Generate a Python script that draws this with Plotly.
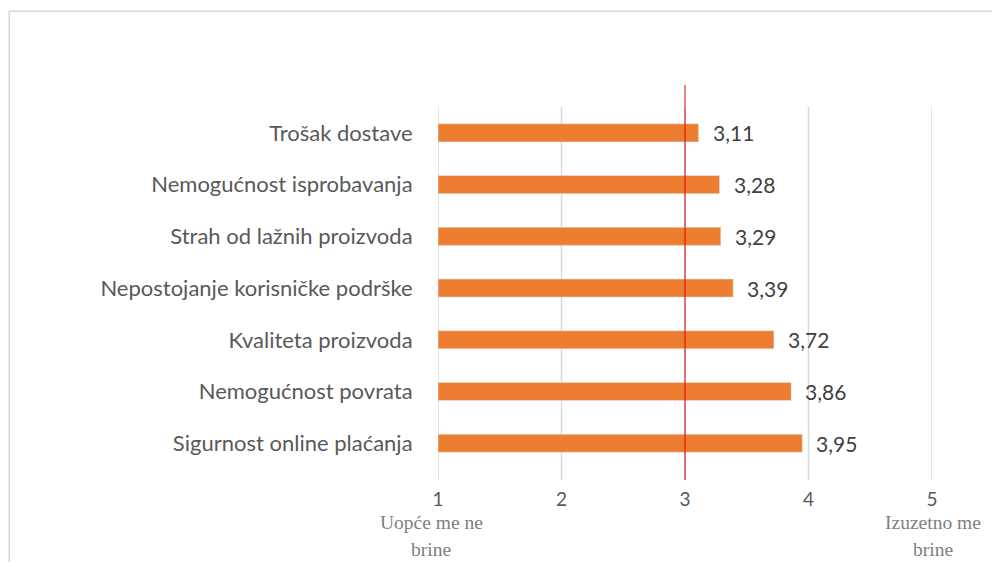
import plotly.graph_objects as go

categories = [
    "Trošak dostave",
    "Nemogućnost isprobavanja",
    "Strah od lažnih proizvoda",
    "Nepostojanje korisničke podrške",
    "Kvaliteta proizvoda",
    "Nemogućnost povrata",
    "Sigurnost online plaćanja",
]
values = [3.11, 3.28, 3.29, 3.39, 3.72, 3.86, 3.95]
x_ticks = [1, 2, 3, 4, 5]
scale_labels = {1: ["Uopće me ne", "brine"], 5: ["Izuzetno me", "brine"]}
reference_value = 3

fig = go.Figure()

fig.add_trace(
    go.Bar(
        x=[v - 1 for v in values],
        base=1,
        y=categories,
        orientation="h",
        marker=dict(color="#ed7d31"),
        width=0.35,
        hoverinfo="skip",
    )
)

# value labels next to bar ends
for cat, v in zip(categories, values):
    fig.add_annotation(
        x=v, y=cat, xref="x", yref="y",
        text=f"{v:.2f}".replace(".", ","),
        showarrow=False, xanchor="left", xshift=12,
        font=dict(family="Lato", size=21, color="#404040"),
    )

# vertical gridlines
for t in x_ticks:
    fig.add_shape(
        type="line", xref="x", yref="paper",
        x0=t, x1=t, y0=0, y1=1,
        line=dict(color="#d9d9d9", width=1.5), layer="below",
    )

# red reference line at 3
fig.add_shape(
    type="line", xref="x", yref="paper",
    x0=reference_value, x1=reference_value, y0=0, y1=1.059,
    line=dict(color="#e00000", width=1), layer="above",
)

# chart frame
frame = dict(color="#d9d9d9", width=1.5)
fig.add_shape(type="line", xref="paper", yref="paper",
              x0=-0.868, x1=1.2, y0=1.257, y1=1.257, line=frame)
fig.add_shape(type="line", xref="paper", yref="paper",
              x0=-0.868, x1=-0.868, y0=1.257, y1=-0.3, line=frame)

for xv, lines in scale_labels.items():
    for i, txt in enumerate(lines):
        fig.add_annotation(
            x=xv, y=-0.115 - i * 0.07, xref="x", yref="paper",
            text=txt, showarrow=False,
            xshift=-7 if xv == 1 else 1,
            font=dict(family="Liberation Serif", size=19.5, color="#7f7f7f"),
            yanchor="middle",
        )

fig.update_layout(
    width=1000,
    height=562,
    paper_bgcolor="white",
    plot_bgcolor="white",
    showlegend=False,
    margin=dict(l=430, r=76, t=99, b=90),
    font=dict(family="Lato", color="#404040"),
    xaxis=dict(
        range=[1, 5],
        tickvals=x_ticks,
        showgrid=False,
        zeroline=False,
        showline=False,
        tickfont=dict(size=19, color="#595959"),
        ticks="",
        ticklabelstandoff=6,
    ),
    yaxis=dict(
        range=[6.71, -0.5],
        showgrid=False,
        zeroline=False,
        showline=False,
        tickfont=dict(size=22, color="#595959"),
        ticks="outside",
        ticklen=20,
        tickcolor="rgba(0,0,0,0)",
    ),
)

fig.write_html("out.html")
